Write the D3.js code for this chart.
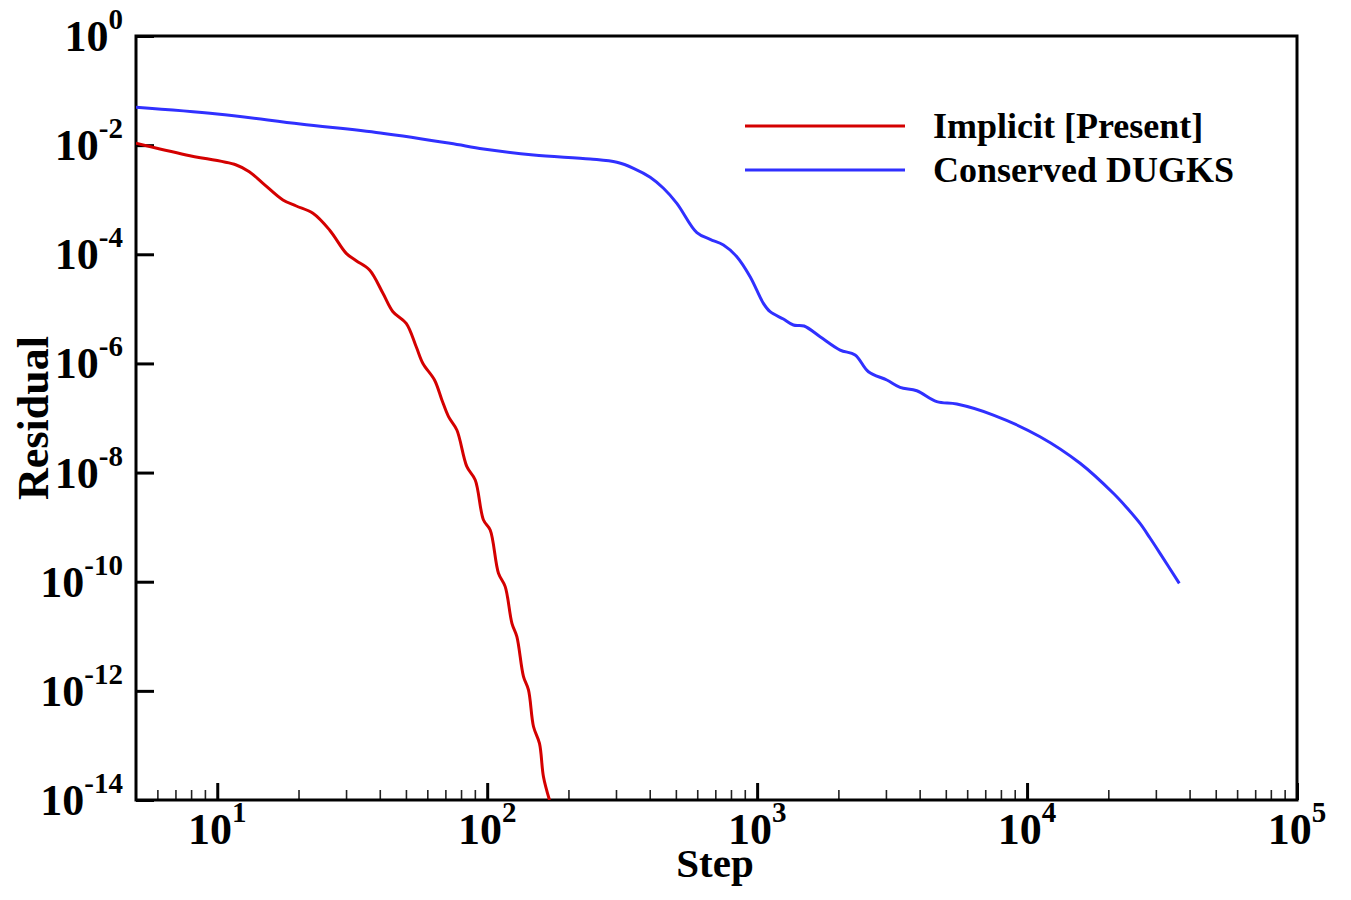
<!DOCTYPE html>
<html>
<head>
<meta charset="utf-8">
<script src="https://cdn.jsdelivr.net/npm/d3@7"></script>
<style>
  html, body { margin: 0; padding: 0; background: #fff; }
  svg { display: block; font-family: "Liberation Serif", "Times New Roman", serif; font-weight: bold; }
</style>
</head>
<body>
<svg id="chart" width="1351" height="900"></svg>
<script>
// residual history
const implicitStep = [5, 7.67, 11.76, 13.14, 14.77, 17.51, 19.62, 22.62, 26.06, 30.05, 32.71, 36.66,
  41.09, 44.75, 50.12, 54.58, 57.8, 63.8, 67.95, 71.9, 77.2, 84.1, 90.3, 96.9, 102.6, 110.1,
  116.6, 123.5, 128.8, 136.3, 142.2, 148.5, 156.2, 161.6, 170.1];
const implicitRes = [1.08e-2, 6.59e-3, 4.33e-3, 3.26e-3, 2.0e-3, 9.89e-4, 7.67e-4, 5.64e-4, 2.79e-4,
  1.04e-4, 7.62e-5, 5.15e-5, 1.93e-5, 8.87e-6, 5.43e-6, 2.02e-6, 1.0e-6, 4.97e-7, 2.14e-7, 1.06e-7,
  6.03e-8, 1.28e-8, 7.31e-9, 1.35e-9, 8.87e-10, 1.43e-10, 8.13e-11, 1.73e-11, 9.84e-12, 1.82e-12,
  1.04e-12, 2.2e-13, 1.09e-13, 2.67e-14, 1e-14];

const dugksStep = [5, 10, 20.3, 40.2, 72.9, 96.9, 148.5, 240.7, 302.2, 348.4, 401.6, 449.8, 504.2,
  598.1, 669.9, 750.3, 841, 942.1, 1055, 1117, 1251, 1363, 1493, 1711, 2030, 2307, 2584, 3023,
  3385, 3904, 4630, 5491, 7503, 11170, 15720, 20870, 23470, 26210, 28540, 31090, 36640];
const dugksRes = [4.93e-2, 3.72e-2, 2.44e-2, 1.67e-2, 1.08e-2, 8.49e-3, 6.59e-3, 5.57e-3, 4.85e-3,
  3.77e-3, 2.58e-3, 1.62e-3, 8.59e-4, 2.49e-4, 1.88e-4, 1.48e-4, 9.03e-5, 3.88e-5, 1.26e-5, 8.87e-6,
  6.52e-6, 5.06e-6, 4.85e-6, 3.09e-6, 1.76e-6, 1.43e-6, 7.05e-7, 4.97e-7, 3.65e-7, 3.16e-7,
  1.99e-7, 1.8e-7, 1.13e-7, 4.54e-8, 1.48e-8, 4.17e-9, 2.24e-9, 1.17e-9, 6.32e-10, 3.31e-10, 9.33e-11];

const seriesNames = ['Implicit [Present]', 'Conserved DUGKS'];
const seriesColors = ['#d40000', '#3030ff'];

const xMajorExp = [1, 2, 3, 4, 5];
const yMajorExp = [0, -2, -4, -6, -8, -10, -12, -14];

const margin = { top: 36, right: 54, bottom: 100, left: 136 };
const W = 1351, H = 900;
const w = W - margin.left - margin.right;
const h = H - margin.top - margin.bottom;

const svg = d3.select('#chart');
const g = svg.append('g').attr('transform', `translate(${margin.left},${margin.top})`);

const x = d3.scaleLog().domain([5, 1e5]).range([0, w]);
const y = d3.scaleLog().domain([1e-14, 1]).range([h, 0]);

svg.append('defs').append('clipPath').attr('id', 'plot')
  .append('rect').attr('width', w).attr('height', h);

// minor x ticks
const minorX = [];
for (let e = 0; e <= 4; e++) {
  for (let m = 2; m <= 9; m++) {
    const v = m * Math.pow(10, e);
    if (v > 5 && v < 1e5) minorX.push(v);
  }
}

g.append('g').attr('transform', `translate(0,${h})`)
  .call(d3.axisBottom(x).tickValues(minorX).tickSize(-10).tickFormat(''))
  .call(s => s.select('.domain').remove())
  .call(s => s.selectAll('line').attr('stroke', '#222').attr('stroke-width', 1.6));

g.append('g').attr('transform', `translate(0,${h})`)
  .call(d3.axisBottom(x).tickValues(xMajorExp.map(e => Math.pow(10, e))).tickSize(-17).tickFormat(''))
  .call(s => s.select('.domain').remove())
  .call(s => s.selectAll('line').attr('stroke', '#000').attr('stroke-width', 3));

g.append('g')
  .call(d3.axisLeft(y).tickValues(yMajorExp.map(e => Math.pow(10, e))).tickSize(-18).tickFormat(''))
  .call(s => s.select('.domain').remove())
  .call(s => s.selectAll('line').attr('stroke', '#000').attr('stroke-width', 3));

// frame
g.append('rect').attr('width', w).attr('height', h)
  .attr('fill', 'none').attr('stroke', '#000').attr('stroke-width', 3);

// tick labels with superscripts
xMajorExp.forEach(e => {
  const t = g.append('text')
    .attr('x', x(Math.pow(10, e)))
    .attr('y', h + 44)
    .attr('text-anchor', 'middle')
    .attr('font-size', 44);
  t.append('tspan').text('10');
  t.append('tspan').attr('font-size', 29).attr('dy', -22).text(e);
});

yMajorExp.forEach(e => {
  const t = g.append('text')
    .attr('x', -13)
    .attr('y', y(Math.pow(10, e)) + 15)
    .attr('text-anchor', 'end')
    .attr('font-size', 44);
  t.append('tspan').text('10');
  t.append('tspan').attr('font-size', 29).attr('dy', -22).text(e);
});

// axis titles
g.append('text')
  .attr('x', 715 - margin.left)
  .attr('y', h + 77)
  .attr('text-anchor', 'middle')
  .attr('font-size', 41)
  .text('Step');

g.append('text')
  .attr('transform', `translate(${48 - margin.left},${418 - margin.top}) rotate(-90)`)
  .attr('text-anchor', 'middle')
  .attr('font-size', 44)
  .text('Residual');

// curves
const line = d3.line()
  .x(d => x(d[0]))
  .y(d => y(d[1]))
  .curve(d3.curveCatmullRom.alpha(0.5));

const series = [
  d3.zip(implicitStep, implicitRes),
  d3.zip(dugksStep, dugksRes)
];

g.append('g').attr('clip-path', 'url(#plot)')
  .selectAll('path')
  .data(series)
  .join('path')
  .attr('d', line)
  .attr('fill', 'none')
  .attr('stroke', (d, i) => seriesColors[i])
  .attr('stroke-width', 3);

// legend
const legend = svg.append('g').attr('transform', 'translate(745,126)');
seriesNames.forEach((name, i) => {
  const row = legend.append('g').attr('transform', `translate(0,${i * 44})`);
  row.append('line').attr('x1', 0).attr('x2', 160)
    .attr('stroke', seriesColors[i]).attr('stroke-width', 3);
  row.append('text').attr('x', 188).attr('y', 12)
    .attr('font-size', 36).text(name);
});
</script>
</body>
</html>
